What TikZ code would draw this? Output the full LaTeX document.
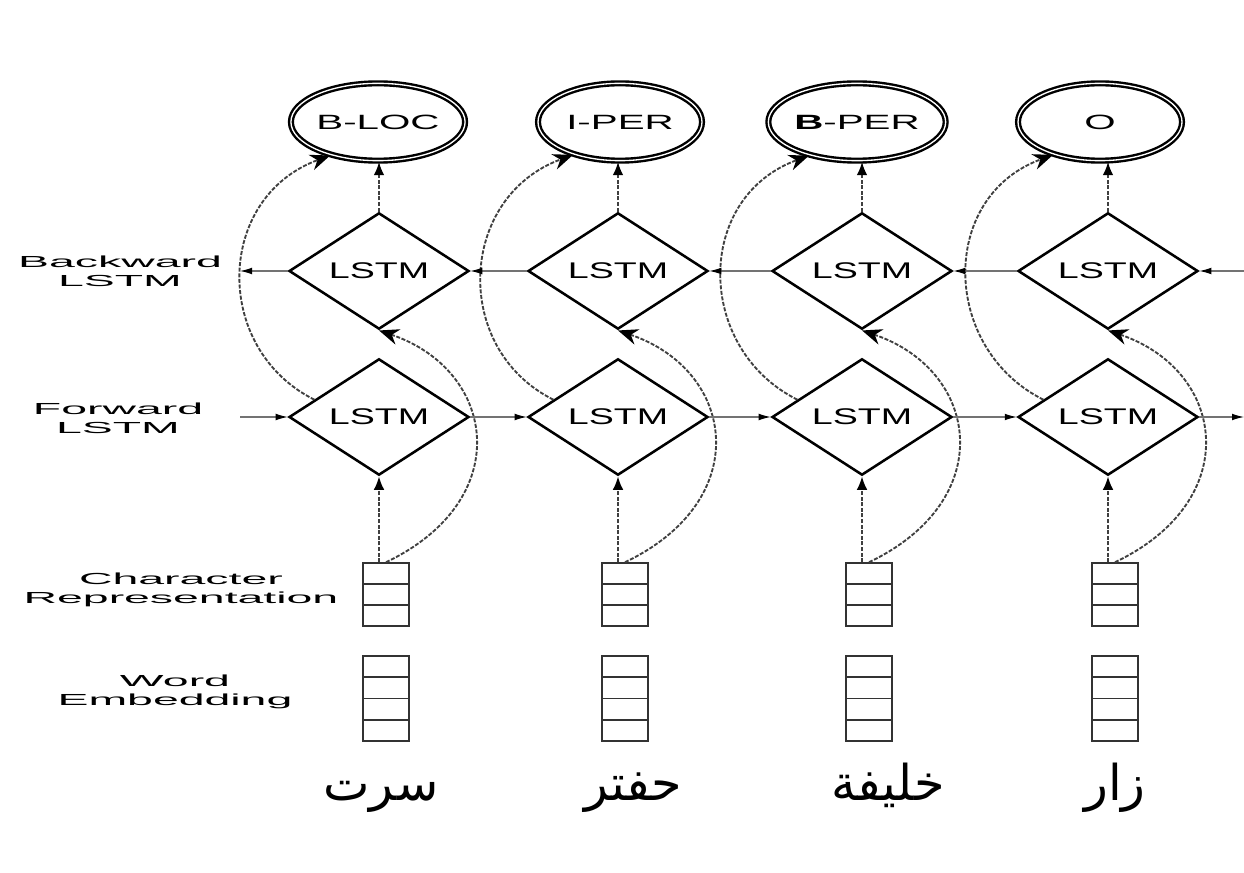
\documentclass[tikz,border=0pt]{standalone}
\usepackage{fontspec}
\usetikzlibrary{shapes.geometric,arrows.meta,calc}
\TeXXeTstate=1
\newfontfamily\lblfont[FakeStretch=2.9]{Liberation Sans}
\newfontfamily\lstmfont[FakeStretch=1.66]{Liberation Sans}
\newfontfamily\outfont[FakeStretch=1.95]{Liberation Sans}
\newfontfamily\arabicfont[Script=Arabic]{DejaVu Sans}
\begin{document}
\begin{tikzpicture}[x=0.75pt,y=-0.75pt,
  lstmbox/.style={diamond, draw=black, line width=1.9pt, minimum width=135pt, minimum height=72pt, inner sep=0pt, fill=white, text=black, font=\lstmfont\fontsize{17}{20}\selectfont},
  outnode/.style={ellipse, draw=black, double=white, line width=1.8pt, double distance=1.0pt, minimum width=123pt, minimum height=58pt, inner sep=0pt, text=black, font=\outfont\fontsize{15.5}{18}\selectfont},
  cellbox/.style={rectangle, draw=black!80, line width=1.4pt, minimum width=34.5pt, inner sep=0pt},
  cellline/.style={draw=black!80, line width=1.4pt},
  lbl/.style={align=center, text=black, font=\lblfont\fontsize{12}{14}\selectfont},
  arab/.style={anchor=base, font=\arabicfont\fontsize{37}{40}\selectfont},
  harrow/.style={draw=black!55, line width=0.8pt, -{Latex[length=9pt,width=5pt,color=black]}},
  varrow/.style={draw=black!75, line width=1.4pt, dash pattern=on 3pt off 1.2pt, -{Latex[length=10pt,width=8pt,color=black]}},
  carrow/.style={draw=black!75, line width=1.4pt, dash pattern=on 3pt off 1.2pt, -{Stealth[length=15pt,width=12pt,color=black]}}
]
\fill[white] (0,0) rectangle (1244,873);
\path[use as bounding box] (0,0) rectangle (1244,873);

\foreach \i/\x/\ox/\lab in {1/379/378/B-LOC, 2/618/620/I-PER, 3/862/857/{\textbf{B}-PER}, 4/1108/1100/O} {
  \node[outnode] (o\i) at (\ox,122) {\lab};
  \node[lstmbox] (b\i) at (\x,271) {LSTM};
  \node[lstmbox] (f\i) at (\x,417) {LSTM};
  \node[cellbox, minimum height=47pt] (c\i) at (\x+7,594.5) {};
  \node[cellbox, minimum height=64pt] (w\i) at (\x+7,698.5) {};
}

\foreach \i in {1,...,4} {
  \draw[cellline] ($(c\i.north west)!1/3!(c\i.south west)$) -- ($(c\i.north east)!1/3!(c\i.south east)$);
  \draw[cellline] ($(c\i.north west)!2/3!(c\i.south west)$) -- ($(c\i.north east)!2/3!(c\i.south east)$);
  \draw[cellline] ($(w\i.north west)!1/4!(w\i.south west)$) -- ($(w\i.north east)!1/4!(w\i.south east)$);
  \draw[cellline] ($(w\i.north west)!2/4!(w\i.south west)$) -- ($(w\i.north east)!2/4!(w\i.south east)$);
  \draw[cellline] ($(w\i.north west)!3/4!(w\i.south west)$) -- ($(w\i.north east)!3/4!(w\i.south east)$);
  \draw[varrow] (c\i.north -| f\i.south) -- (f\i.south);
  \draw[varrow] (b\i.north) -- (b\i.north |- o\i.south);
  \draw[carrow] (f\i.165) .. controls +(-102,-51) and +(-115,42) .. (o\i.215);
  \draw[carrow] (c\i.north) .. controls +(130,-62) and +(118,40) .. (b\i.south);
}

\coordinate (fin) at (240,417);
\coordinate (fout) at (1244,417);
\coordinate (bin) at (1244,271);
\coordinate (bout) at (240,271);
\draw[harrow] (fin) -- (f1.west);
\draw[harrow] (f1.east) -- (f2.west);
\draw[harrow] (f2.east) -- (f3.west);
\draw[harrow] (f3.east) -- (f4.west);
\draw[harrow] (f4.east) -- (fout);
\draw[harrow] (bin) -- (b4.east);
\draw[harrow] (b4.west) -- (b3.east);
\draw[harrow] (b3.west) -- (b2.east);
\draw[harrow] (b2.west) -- (b1.east);
\draw[harrow] (b1.west) -- (bout);

\node[lbl] (lb) at (120,271) {Backward\\LSTM};
\node[lbl] (lf) at (118,418) {Forward\\LSTM};
\node[lbl] (lc) at (181,590) {Character\\Representation};
\node[lbl] (lw) at (175,692) {Word\\Embedding};

\node[arab] (a1) at (381,800) {\beginR سرت\endR};
\node[arab] (a2) at (633,800) {\beginR حفتر\endR};
\node[arab] (a3) at (888,800) {\beginR خليفة\endR};
\node[arab] (a4) at (1115,800) {\beginR زار\endR};
\end{tikzpicture}
\end{document}
